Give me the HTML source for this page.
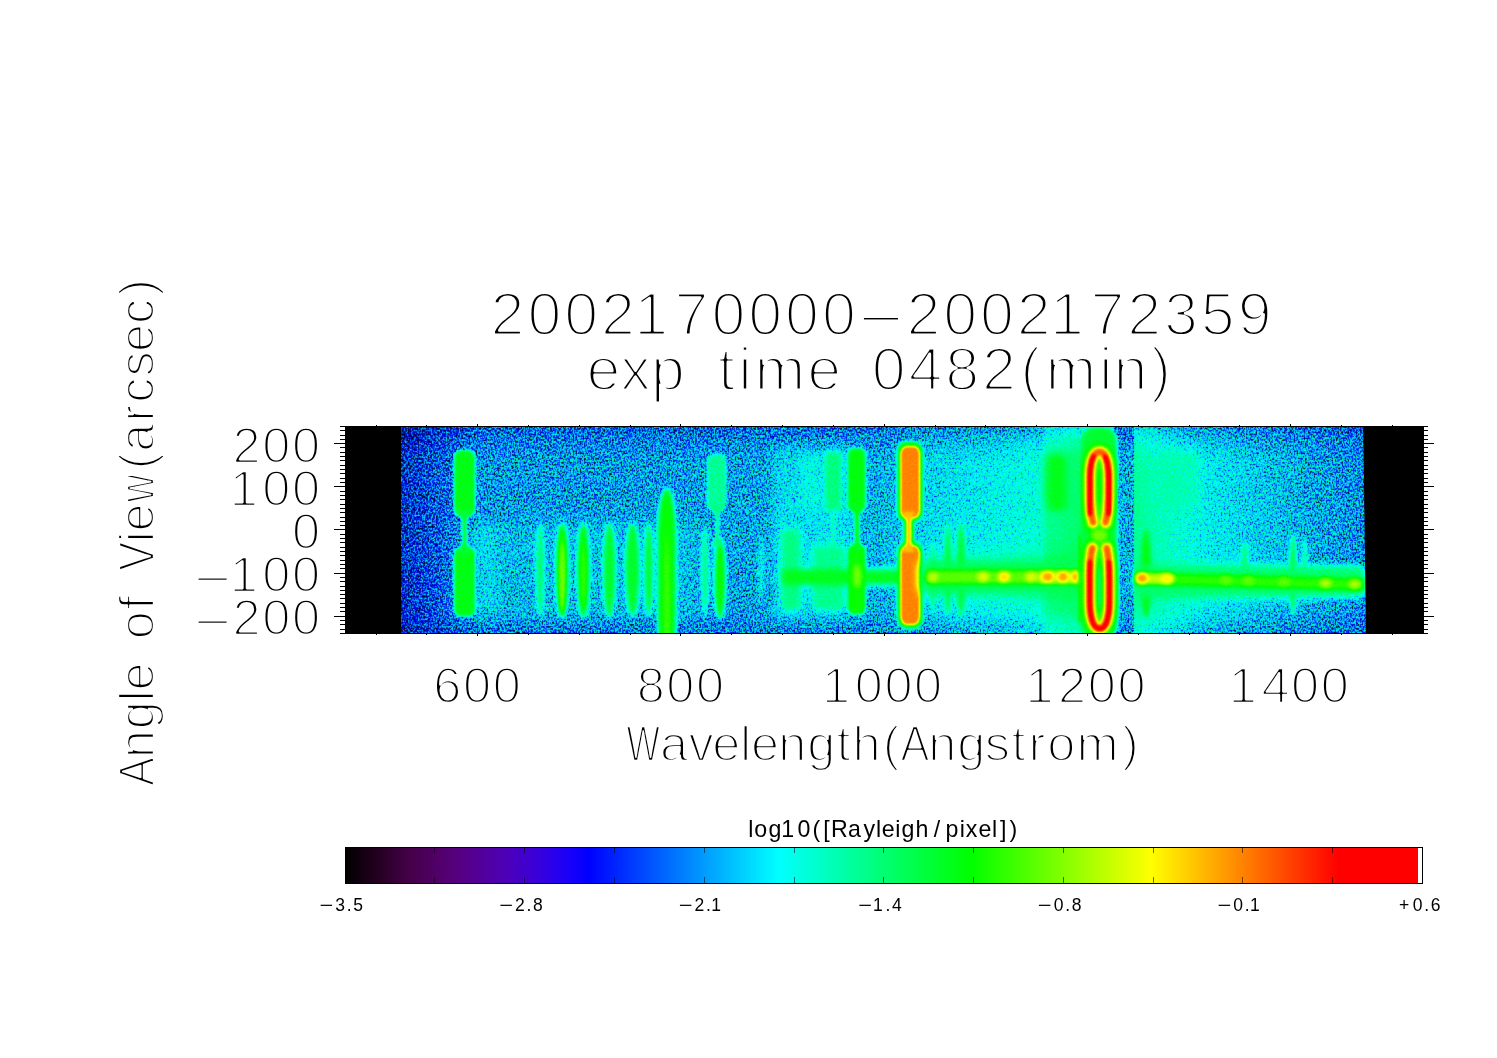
<!DOCTYPE html>
<html lang="en"><head><meta charset="utf-8"><title>2002170000-2002172359 exp time 0482(min)</title>
<style>html,body{margin:0;padding:0;background:#fff}svg{display:block}text{font-family:"Liberation Sans",sans-serif;fill:#000}</style></head><body>
<svg width="1497" height="1058" viewBox="0 0 1497 1058">
<rect width="1497" height="1058" fill="#fff"/>
<defs>
<clipPath id="ic"><rect x="345.0" y="426.0" width="1078.0" height="207.5"/></clipPath>
<filter id="cm" filterUnits="userSpaceOnUse" x="345.0" y="426.0" width="1078.0" height="207.5" color-interpolation-filters="sRGB">
<feTurbulence type="fractalNoise" baseFrequency="0.71 0.53" numOctaves="2" seed="5" result="n0"/>
<feColorMatrix in="n0" type="matrix" values="1 0 0 0 0  1 0 0 0 0  1 0 0 0 0  0 0 0 0 1" result="n1a"/>
<feGaussianBlur in="n1a" stdDeviation="0" result="n1b"/>
<feComponentTransfer in="n1b" result="n1"><feFuncR type="linear" slope="1.0" intercept="0.0"/><feFuncG type="linear" slope="1.0" intercept="0.0"/><feFuncB type="linear" slope="1.0" intercept="0.0"/></feComponentTransfer>
<feComponentTransfer in="n1" result="n"><feFuncR type="table" tableValues="0.000 0.000 0.000 0.000 0.000 0.000 0.000 0.000 0.000 0.000 0.000 0.000 0.000 0.000 0.000 0.000 0.000 0.000 0.000 0.000 0.000 0.000 0.000 0.000 0.000 0.064 0.178 0.256 0.274 0.292 0.314 0.336 0.354 0.363 0.374 0.385 0.397 0.409 0.423 0.438 0.453 0.472 0.492 0.511 0.531 0.549 0.565 0.581 0.596 0.609 0.622 0.634 0.646 0.658 0.668 0.678 0.687 0.694 0.702 0.708 0.719 0.731 0.741 0.750 0.757 0.762 0.766 0.769 0.771 0.772 0.773 0.774 0.774 0.775 0.775 0.775 0.775 0.775 0.775 0.775 0.775 0.775 0.775 0.775 0.775 0.775"/><feFuncG type="table" tableValues="0.000 0.000 0.000 0.000 0.000 0.000 0.000 0.000 0.000 0.000 0.000 0.000 0.000 0.000 0.000 0.000 0.000 0.000 0.000 0.000 0.000 0.000 0.000 0.000 0.000 0.064 0.178 0.256 0.274 0.292 0.314 0.336 0.354 0.363 0.374 0.385 0.397 0.409 0.423 0.438 0.453 0.472 0.492 0.511 0.531 0.549 0.565 0.581 0.596 0.609 0.622 0.634 0.646 0.658 0.668 0.678 0.687 0.694 0.702 0.708 0.719 0.731 0.741 0.750 0.757 0.762 0.766 0.769 0.771 0.772 0.773 0.774 0.774 0.775 0.775 0.775 0.775 0.775 0.775 0.775 0.775 0.775 0.775 0.775 0.775 0.775"/><feFuncB type="table" tableValues="0.000 0.000 0.000 0.000 0.000 0.000 0.000 0.000 0.000 0.000 0.000 0.000 0.000 0.000 0.000 0.000 0.000 0.000 0.000 0.000 0.000 0.000 0.000 0.000 0.000 0.064 0.178 0.256 0.274 0.292 0.314 0.336 0.354 0.363 0.374 0.385 0.397 0.409 0.423 0.438 0.453 0.472 0.492 0.511 0.531 0.549 0.565 0.581 0.596 0.609 0.622 0.634 0.646 0.658 0.668 0.678 0.687 0.694 0.702 0.708 0.719 0.731 0.741 0.750 0.757 0.762 0.766 0.769 0.771 0.772 0.773 0.774 0.774 0.775 0.775 0.775 0.775 0.775 0.775 0.775 0.775 0.775 0.775 0.775 0.775 0.775"/></feComponentTransfer>
<feComponentTransfer in="SourceGraphic" result="amp"><feFuncR type="table" tableValues="0.660 0.660 0.660 0.660 0.660 0.660 0.660 0.660 0.660 0.660 0.660 0.660 0.660 0.660 0.600 0.447 0.280 0.210 0.140 0.110 0.080 0.068 0.056 0.048 0.040 0.037 0.035 0.032 0.030 0.029 0.028 0.027 0.027 0.026 0.025 0.024 0.023 0.022 0.022 0.021 0.020"/><feFuncG type="table" tableValues="0.660 0.660 0.660 0.660 0.660 0.660 0.660 0.660 0.660 0.660 0.660 0.660 0.660 0.660 0.600 0.447 0.280 0.210 0.140 0.110 0.080 0.068 0.056 0.048 0.040 0.037 0.035 0.032 0.030 0.029 0.028 0.027 0.027 0.026 0.025 0.024 0.023 0.022 0.022 0.021 0.020"/><feFuncB type="table" tableValues="0.660 0.660 0.660 0.660 0.660 0.660 0.660 0.660 0.660 0.660 0.660 0.660 0.660 0.660 0.600 0.447 0.280 0.210 0.140 0.110 0.080 0.068 0.056 0.048 0.040 0.037 0.035 0.032 0.030 0.029 0.028 0.027 0.027 0.026 0.025 0.024 0.023 0.022 0.022 0.021 0.020"/></feComponentTransfer>
<feComposite in="n" in2="amp" operator="arithmetic" k1="1" k2="0" k3="-0.5" k4="0.5" result="t"/>
<feComposite in="SourceGraphic" in2="t" operator="arithmetic" k1="0" k2="1" k3="1" k4="-0.5" result="v"/>
<feComponentTransfer in="v"><feFuncR type="table" tableValues="0.000 0.000 0.000 0.000 0.000 0.000 0.000 0.000 0.000 0.000 0.000 0.000 0.000 0.000 0.000 0.000 0.000 0.000 0.000 0.000 0.000 0.000 0.000 0.000 0.000 0.000 0.000 0.000 0.000 0.000 0.000 0.000 0.000 0.000 0.000 0.000 0.000 0.000 0.000 0.000 0.000 0.000 0.000 0.000 0.000 0.000 0.000 0.000 0.000 0.000 0.000 0.000 0.000 0.000 0.000 0.000 0.000 0.000 0.000 0.000 0.000 0.000 0.000 0.000 0.000 0.000 0.000 0.000 0.000 0.000 0.000 0.000 0.000 0.000 0.000 0.035 0.082 0.128 0.175 0.221 0.268 0.314 0.361 0.407 0.454 0.500 0.547 0.593 0.640 0.686 0.733 0.779 0.826 0.872 0.919 0.965 1.000 1.000 1.000 1.000 1.000 1.000 1.000 1.000 1.000 1.000 1.000 1.000 1.000 1.000 1.000 1.000 1.000 1.000 1.000 1.000 1.000 1.000 1.000 1.000 1.000 1.000 1.000 1.000 1.000 1.000 1.000 1.000 1.000"/><feFuncG type="table" tableValues="0.000 0.000 0.000 0.000 0.000 0.000 0.000 0.000 0.000 0.000 0.000 0.000 0.000 0.000 0.000 0.000 0.000 0.000 0.000 0.000 0.000 0.000 0.000 0.000 0.000 0.000 0.000 0.000 0.000 0.003 0.048 0.092 0.136 0.181 0.225 0.270 0.314 0.358 0.403 0.447 0.491 0.536 0.580 0.625 0.669 0.713 0.758 0.802 0.847 0.891 0.935 0.980 1.000 1.000 1.000 1.000 1.000 1.000 1.000 1.000 1.000 1.000 1.000 1.000 1.000 1.000 1.000 1.000 1.000 1.000 1.000 1.000 1.000 1.000 1.000 1.000 1.000 1.000 1.000 1.000 1.000 1.000 1.000 1.000 1.000 1.000 1.000 1.000 1.000 1.000 1.000 1.000 1.000 1.000 1.000 1.000 0.989 0.944 0.899 0.854 0.809 0.764 0.719 0.674 0.629 0.584 0.540 0.495 0.450 0.405 0.360 0.315 0.270 0.225 0.180 0.135 0.091 0.046 0.001 0.000 0.000 0.000 0.000 0.000 0.000 0.000 0.000 0.000 0.000"/><feFuncB type="table" tableValues="0.000 0.000 0.000 0.000 0.000 0.000 0.000 0.000 0.015 0.062 0.109 0.156 0.203 0.250 0.297 0.345 0.392 0.439 0.486 0.533 0.580 0.627 0.674 0.721 0.768 0.815 0.862 0.909 0.956 1.000 1.000 1.000 1.000 1.000 1.000 1.000 1.000 1.000 1.000 1.000 1.000 1.000 1.000 1.000 1.000 1.000 1.000 1.000 1.000 1.000 1.000 1.000 0.976 0.932 0.888 0.844 0.801 0.757 0.713 0.669 0.625 0.581 0.537 0.493 0.449 0.406 0.362 0.318 0.274 0.230 0.186 0.142 0.098 0.054 0.011 0.000 0.000 0.000 0.000 0.000 0.000 0.000 0.000 0.000 0.000 0.000 0.000 0.000 0.000 0.000 0.000 0.000 0.000 0.000 0.000 0.000 0.000 0.000 0.000 0.000 0.000 0.000 0.000 0.000 0.000 0.000 0.000 0.000 0.000 0.000 0.000 0.000 0.000 0.000 0.000 0.000 0.000 0.000 0.000 0.000 0.000 0.000 0.000 0.000 0.000 0.000 0.000 0.000 0.000"/><feFuncA type="linear" slope="0" intercept="1"/></feComponentTransfer><feConvolveMatrix order="3" kernelMatrix="0.2 1 0.2 1 7 1 0.2 1 0.2" edgeMode="duplicate" preserveAlpha="true"/>
</filter>
<filter id="b1" x="-50%" y="-50%" width="200%" height="200%" color-interpolation-filters="sRGB"><feGaussianBlur stdDeviation="1.0"/></filter>
<filter id="b15" x="-50%" y="-50%" width="200%" height="200%" color-interpolation-filters="sRGB"><feGaussianBlur stdDeviation="1.5"/></filter>
<filter id="b2" x="-50%" y="-50%" width="200%" height="200%" color-interpolation-filters="sRGB"><feGaussianBlur stdDeviation="2.0"/></filter>
<filter id="b3" x="-50%" y="-50%" width="200%" height="200%" color-interpolation-filters="sRGB"><feGaussianBlur stdDeviation="3.0"/></filter>
<filter id="b4" x="-50%" y="-50%" width="200%" height="200%" color-interpolation-filters="sRGB"><feGaussianBlur stdDeviation="4.0"/></filter>
<filter id="b6" x="-50%" y="-50%" width="200%" height="200%" color-interpolation-filters="sRGB"><feGaussianBlur stdDeviation="6.0"/></filter>
<filter id="b9" x="-50%" y="-50%" width="200%" height="200%" color-interpolation-filters="sRGB"><feGaussianBlur stdDeviation="9.0"/></filter>
<linearGradient id="bg" gradientUnits="userSpaceOnUse" x1="345.0" x2="1423.0" y1="0" y2="0"><stop offset="0.05195" stop-color="#393939"/><stop offset="0.07421" stop-color="#404040"/><stop offset="0.09740" stop-color="#494949"/><stop offset="0.12523" stop-color="#555555"/><stop offset="0.32931" stop-color="#575757"/><stop offset="0.40353" stop-color="#595959"/><stop offset="0.49629" stop-color="#5c5c5c"/><stop offset="0.53803" stop-color="#636363"/><stop offset="0.60761" stop-color="#696969"/><stop offset="0.64471" stop-color="#6e6e6e"/><stop offset="0.65213" stop-color="#7a7a7a"/><stop offset="0.68460" stop-color="#818181"/><stop offset="0.71373" stop-color="#787878"/><stop offset="0.71382" stop-color="#5a5a5a"/><stop offset="0.73210" stop-color="#5a5a5a"/><stop offset="0.73219" stop-color="#7a7a7a"/><stop offset="0.75603" stop-color="#737373"/><stop offset="0.79314" stop-color="#696969"/><stop offset="0.83952" stop-color="#626262"/><stop offset="0.88590" stop-color="#5b5b5b"/><stop offset="0.94527" stop-color="#525252"/></linearGradient>
<linearGradient id="vd" gradientUnits="userSpaceOnUse" x1="0" x2="0" y1="426.0" y2="633.5"><stop offset="0" stop-color="#000" stop-opacity="0.2"/><stop offset="0.07" stop-color="#000" stop-opacity="0.09"/><stop offset="0.16" stop-color="#000" stop-opacity="0.015"/><stop offset="0.5" stop-color="#000" stop-opacity="0"/><stop offset="0.9" stop-color="#000" stop-opacity="0.02"/><stop offset="1" stop-color="#000" stop-opacity="0.12"/></linearGradient>
</defs>
<g clip-path="url(#ic)">
<g filter="url(#cm)">
<rect x="345.0" y="426.0" width="1078.0" height="207.5" fill="url(#bg)"/>
<rect x="345.0" y="426.0" width="1078.0" height="207.5" fill="url(#vd)"/>
<rect x="470.0" y="520.0" width="230.0" height="102.0" rx="10.0" ry="10.0" fill="#ffffff" fill-opacity="0.05" filter="url(#b9)"/>
<rect x="772.0" y="445.0" width="80.0" height="177.0" rx="8.0" ry="8.0" fill="#ffffff" fill-opacity="0.07" filter="url(#b6)"/>
<rect x="925.0" y="552.0" width="160.0" height="52.0" rx="8.0" ry="8.0" fill="#ffffff" fill-opacity="0.07" filter="url(#b9)"/>
<rect x="1134.0" y="562.0" width="230.0" height="40.0" rx="8.0" ry="8.0" fill="#ffffff" fill-opacity="0.06" filter="url(#b6)"/>
<rect x="447.0" y="520.0" width="53.0" height="102.0" rx="8.0" ry="8.0" fill="#ffffff" fill-opacity="0.04" filter="url(#b6)"/>
<rect x="454.0" y="450.0" width="21.0" height="66.7" rx="7.0" ry="8.0" fill="#909090" filter="url(#b15)"/>
<rect x="454.0" y="547.0" width="21.0" height="69.5" rx="7.0" ry="8.0" fill="#909090" filter="url(#b15)"/>
<path d="M457.0 510.0L462.2 520.0V543.5L457.0 553.5H472.0L466.8 543.5V520.0L472.0 510.0Z" fill="#8a8a8a" filter="url(#b1)"/>
<ellipse cx="540.2" cy="570.5" rx="4.1" ry="47.5" fill="#808080" filter="url(#b2)"/>
<ellipse cx="562.2" cy="570.5" rx="6.1" ry="47.5" fill="#999999" filter="url(#b2)"/>
<ellipse cx="562.2" cy="577.5" rx="2.1" ry="35.5" fill="#adadad" filter="url(#b2)"/>
<ellipse cx="583.4" cy="570.5" rx="6.1" ry="47.5" fill="#949494" filter="url(#b2)"/>
<ellipse cx="583.4" cy="577.0" rx="1.6" ry="32.0" fill="#a1a1a1" filter="url(#b2)"/>
<ellipse cx="609.4" cy="570.5" rx="6.1" ry="47.5" fill="#8c8c8c" filter="url(#b2)"/>
<ellipse cx="632.5" cy="569.5" rx="7.1" ry="46.5" fill="#8c8c8c" filter="url(#b2)"/>
<ellipse cx="648.7" cy="570.0" rx="4.1" ry="47.0" fill="#8c8c8c" filter="url(#b2)"/>
<rect x="657.8" y="488.0" width="18.0" height="212.0" rx="9.0" ry="48.0" fill="#939393" filter="url(#b2)"/>
<ellipse cx="666.8" cy="607.5" rx="2.6" ry="75.5" fill="#9f9f9f" filter="url(#b2)"/>
<ellipse cx="705.0" cy="572.0" rx="4.1" ry="45.0" fill="#7a7a7a" filter="url(#b2)"/>
<ellipse cx="720.0" cy="578.2" rx="5.6" ry="41.2" fill="#949494" filter="url(#b2)"/>
<rect x="707.2" y="454.0" width="19.0" height="57.5" rx="7.0" ry="8.0" fill="#797979" filter="url(#b15)"/>
<path d="M711.3 505.0L715.5 515.0V537.0L711.3 547.0H723.3L719.1 537.0V515.0L723.3 505.0Z" fill="#7d7d7d" filter="url(#b1)"/>
<ellipse cx="761.0" cy="570.0" rx="3.1" ry="33.0" fill="#6b6b6b" filter="url(#b2)"/>
<rect x="781.0" y="528.0" width="20.0" height="83.0" rx="6.0" ry="6.0" fill="#7c7c7c" filter="url(#b3)"/>
<rect x="801.0" y="455.0" width="19.0" height="55.0" rx="6.0" ry="6.0" fill="#6b6b6b" filter="url(#b3)"/>
<rect x="825.0" y="451.0" width="16.5" height="60.5" rx="6.0" ry="6.0" fill="#7d7d7d" filter="url(#b2)"/>
<rect x="831.0" y="508.0" width="4.0" height="40.0" rx="1.0" ry="1.0" fill="#737373" filter="url(#b1)"/>
<rect x="812.0" y="545.0" width="33.0" height="65.0" rx="7.0" ry="7.0" fill="#7a7a7a" filter="url(#b3)"/>
<rect x="781.0" y="569.0" width="122.0" height="16.0" rx="6.0" ry="6.0" fill="#8f8f8f" filter="url(#b3)"/>
<rect x="847.8" y="448.0" width="17.8" height="63.5" rx="6.0" ry="7.0" fill="#919191" filter="url(#b15)"/>
<rect x="847.8" y="545.0" width="17.8" height="69.5" rx="6.0" ry="7.0" fill="#949494" filter="url(#b15)"/>
<path d="M850.5 505.0L854.7 515.0V541.5L850.5 551.5H863.5L859.3 541.5V515.0L863.5 505.0Z" fill="#8f8f8f" filter="url(#b1)"/>
<ellipse cx="857.0" cy="576.0" rx="4.0" ry="12.0" fill="#a8a8a8" filter="url(#b2)"/>
<rect x="897.3" y="441.5" width="25.6" height="79.5" rx="9.0" ry="9.0" fill="#949494" filter="url(#b15)"/>
<rect x="897.3" y="542.5" width="25.6" height="86.0" rx="9.0" ry="10.0" fill="#949494" filter="url(#b15)"/>
<path d="M899.3 512.0L903.8 522.0V541.5L899.3 551.5H918.3L913.8 541.5V522.0L918.3 512.0Z" fill="#949494" filter="url(#b15)"/>
<rect x="900.6" y="446.3" width="19.2" height="71.7" rx="6.5" ry="7.5" fill="#d4d4d4" filter="url(#b1)"/>
<rect x="900.6" y="545.6" width="19.2" height="79.2" rx="6.5" ry="9.0" fill="#d4d4d4" filter="url(#b1)"/>
<path d="M902.8 511.5L906.5 521.5V542.0L902.8 552.0H914.8L911.1 542.0V521.5L914.8 511.5Z" fill="#c9c9c9" filter="url(#b1)"/>
<ellipse cx="933.0" cy="577.5" rx="2.6" ry="35.5" fill="#808080" filter="url(#b2)"/>
<ellipse cx="947.8" cy="569.5" rx="3.1" ry="46.5" fill="#8c8c8c" filter="url(#b2)"/>
<ellipse cx="961.0" cy="570.5" rx="4.1" ry="47.5" fill="#8c8c8c" filter="url(#b2)"/>
<rect x="920.0" y="560.0" width="166.0" height="34.0" rx="8.0" ry="8.0" fill="#858585" filter="url(#b4)"/>
<rect x="925.0" y="570.0" width="159.0" height="14.0" rx="6.0" ry="6.0" fill="#a2a2a2" filter="url(#b2)"/>
<rect x="1036.0" y="571.5" width="46.0" height="11.0" rx="5.0" ry="5.0" fill="#b2b2b2" filter="url(#b2)"/>
<ellipse cx="933.0" cy="576.8" rx="5.7" ry="5.4" fill="#b2b2b2" filter="url(#b2)"/>
<ellipse cx="983.0" cy="576.8" rx="6.2" ry="5.4" fill="#b8b8b8" filter="url(#b2)"/>
<ellipse cx="1004.0" cy="576.8" rx="6.2" ry="5.4" fill="#c4c4c4" filter="url(#b2)"/>
<ellipse cx="1031.0" cy="576.8" rx="6.2" ry="5.4" fill="#b8b8b8" filter="url(#b2)"/>
<ellipse cx="1047.6" cy="576.8" rx="6.2" ry="5.4" fill="#cfcfcf" filter="url(#b2)"/>
<ellipse cx="1063.0" cy="576.8" rx="5.7" ry="5.4" fill="#cfcfcf" filter="url(#b2)"/>
<ellipse cx="1075.7" cy="576.8" rx="4.7" ry="5.4" fill="#cccccc" filter="url(#b2)"/>
<rect x="1044.5" y="453.0" width="35.5" height="59.0" rx="5.0" ry="5.0" fill="#818181" filter="url(#b4)"/>
<rect x="1048.0" y="455.0" width="18.0" height="55.0" rx="6.0" ry="6.0" fill="#8f8f8f" filter="url(#b3)"/>
<rect x="1078.3" y="535.0" width="3.0" height="87.0" rx="1.0" ry="1.0" fill="#999999" filter="url(#b1)"/>
<rect x="1081.5" y="427.0" width="35.5" height="213.0" rx="14.0" ry="14.0" fill="#8b8b8b" filter="url(#b2)"/>
<ellipse cx="1099.4" cy="535.0" rx="9.0" ry="10.0" fill="#a7a7a7" filter="url(#b2)"/>
<ellipse cx="1099.2" cy="492.0" rx="3.3" ry="23.0" fill="#747474" filter="url(#b15)"/>
<ellipse cx="1099.5" cy="585.0" rx="3.9" ry="29.0" fill="#656565" filter="url(#b15)"/>
<path d="M1093 522.5C1090.9 515 1089.9 505 1089.9 490V478C1089.9 462 1093.5 451.8 1099.4 451.8C1105.2 451.8 1108.6 462 1108.6 478V490C1108.6 505 1107.7 515 1105.6 522.5" fill="none" stroke="#999999" stroke-width="17.5" stroke-linecap="round" filter="url(#b2)"/>
<path d="M1093 522.5C1090.9 515 1089.9 505 1089.9 490V478C1089.9 462 1093.5 451.8 1099.4 451.8C1105.2 451.8 1108.6 462 1108.6 478V490C1108.6 505 1107.7 515 1105.6 522.5" fill="none" stroke="#bebebe" stroke-width="10.8" stroke-linecap="round" filter="url(#b15)"/>
<path d="M1093 522.5C1090.9 515 1089.9 505 1089.9 490V478C1089.9 462 1093.5 451.8 1099.4 451.8C1105.2 451.8 1108.6 462 1108.6 478V490C1108.6 505 1107.7 515 1105.6 522.5" fill="none" stroke="#dbdbdb" stroke-width="6.4" stroke-linecap="round" filter="url(#b15)"/>
<path d="M1089.7 514C1089.9 506 1089.9 497 1089.9 490V478C1089.9 469 1091.4 460.5 1093.6 456M1105.2 456.5C1107.3 461 1108.7 469 1108.7 478V490C1108.7 497 1108.7 506 1108.5 514" fill="none" stroke="#f5f5f5" stroke-width="3.8" stroke-linecap="round" filter="url(#b15)"/>
<path d="M1092.4 548C1089.7 556 1089.7 566 1089.7 580V600C1089.7 618 1093.5 628.3 1099.6 628.3C1105.7 628.3 1109.3 618 1109.3 600V580C1109.3 566 1108.5 556 1106.7 548" fill="none" stroke="#999999" stroke-width="17.5" stroke-linecap="round" filter="url(#b2)"/>
<path d="M1092.4 548C1089.7 556 1089.7 566 1089.7 580V600C1089.7 618 1093.5 628.3 1099.6 628.3C1105.7 628.3 1109.3 618 1109.3 600V580C1109.3 566 1108.5 556 1106.7 548" fill="none" stroke="#bebebe" stroke-width="10.8" stroke-linecap="round" filter="url(#b15)"/>
<path d="M1092.4 548C1089.7 556 1089.7 566 1089.7 580V600C1089.7 618 1093.5 628.3 1099.6 628.3C1105.7 628.3 1109.3 618 1109.3 600V580C1109.3 566 1108.5 556 1106.7 548" fill="none" stroke="#dbdbdb" stroke-width="6.4" stroke-linecap="round" filter="url(#b15)"/>
<path d="M1089.9 562C1089.7 568 1089.7 574 1089.7 580V600C1089.7 618 1093.5 629 1099.6 629C1105.7 629 1109.3 618 1109.3 600V580C1109.3 574 1109.3 568 1108.7 562" fill="none" stroke="#f5f5f5" stroke-width="3.8" stroke-linecap="round" filter="url(#b15)"/>
<path d="M1109.6 470V512M1110.4 565V612" fill="none" stroke="#ededed" stroke-width="3.2" stroke-linecap="round" filter="url(#b15)"/>
<ellipse cx="1146.0" cy="573.5" rx="5.1" ry="44.5" fill="#919191" filter="url(#b2)"/>
<ellipse cx="1244.7" cy="561.5" rx="3.1" ry="19.5" fill="#808080" filter="url(#b2)"/>
<ellipse cx="1293.0" cy="575.0" rx="3.1" ry="41.0" fill="#8c8c8c" filter="url(#b2)"/>
<ellipse cx="1304.8" cy="559.0" rx="2.6" ry="22.0" fill="#787878" filter="url(#b2)"/>
<rect x="1160.0" y="450.0" width="40.0" height="60.0" rx="8.0" ry="8.0" fill="#787878" fill-opacity="0.6" filter="url(#b4)"/>
<rect x="1134.5" y="566.0" width="231.5" height="31.0" rx="8.0" ry="8.0" fill="#808080" filter="url(#b3)"/>
<path d="M1136 572.5 L1364 578.5 V590.5 L1136 584.5Z" fill="#9a9a9a" filter="url(#b2)"/>
<rect x="1136.0" y="573.5" width="38.0" height="10.0" rx="5.0" ry="5.0" fill="#b5b5b5" filter="url(#b2)"/>
<ellipse cx="1141.8" cy="578.0" rx="6.2" ry="5.2" fill="#cfcfcf" filter="url(#b2)"/>
<ellipse cx="1166.8" cy="578.5" rx="6.7" ry="5.2" fill="#bfbfbf" filter="url(#b2)"/>
<ellipse cx="1226.0" cy="580.0" rx="6.2" ry="5.2" fill="#a3a3a3" filter="url(#b2)"/>
<ellipse cx="1248.6" cy="580.5" rx="6.2" ry="5.2" fill="#a3a3a3" filter="url(#b2)"/>
<ellipse cx="1284.0" cy="581.5" rx="6.2" ry="5.2" fill="#a3a3a3" filter="url(#b2)"/>
<ellipse cx="1325.6" cy="583.0" rx="6.2" ry="5.2" fill="#b0b0b0" filter="url(#b2)"/>
<ellipse cx="1354.7" cy="584.0" rx="6.2" ry="5.2" fill="#b0b0b0" filter="url(#b2)"/>
</g>
<rect x="345.0" y="426.0" width="56.0" height="207.5" fill="#000"/>
<path d="M1363.2 426.0L1366 633.5H1423.0V426.0Z" fill="#000"/>
</g>
<g stroke="#000" stroke-width="1" fill="none" shape-rendering="crispEdges">
<rect x="345.0" y="426.0" width="1078.0" height="207.5"/>
<path d="M340.0 633.5H345.0M1423.0 633.5H1428.0M340.0 629.1H345.0M1423.0 629.1H1428.0M340.0 624.8H345.0M1423.0 624.8H1428.0M340.0 620.5H345.0M1423.0 620.5H1428.0M334.0 616.2H345.0M1423.0 616.2H1434.0M340.0 611.9H345.0M1423.0 611.9H1428.0M340.0 607.6H345.0M1423.0 607.6H1428.0M340.0 603.3H345.0M1423.0 603.3H1428.0M340.0 598.9H345.0M1423.0 598.9H1428.0M340.0 594.6H345.0M1423.0 594.6H1428.0M340.0 590.3H345.0M1423.0 590.3H1428.0M340.0 586.0H345.0M1423.0 586.0H1428.0M340.0 581.7H345.0M1423.0 581.7H1428.0M340.0 577.4H345.0M1423.0 577.4H1428.0M334.0 573.0H345.0M1423.0 573.0H1434.0M340.0 568.7H345.0M1423.0 568.7H1428.0M340.0 564.4H345.0M1423.0 564.4H1428.0M340.0 560.1H345.0M1423.0 560.1H1428.0M340.0 555.8H345.0M1423.0 555.8H1428.0M340.0 551.5H345.0M1423.0 551.5H1428.0M340.0 547.2H345.0M1423.0 547.2H1428.0M340.0 542.8H345.0M1423.0 542.8H1428.0M340.0 538.5H345.0M1423.0 538.5H1428.0M340.0 534.2H345.0M1423.0 534.2H1428.0M334.0 529.9H345.0M1423.0 529.9H1434.0M340.0 525.6H345.0M1423.0 525.6H1428.0M340.0 521.3H345.0M1423.0 521.3H1428.0M340.0 517.0H345.0M1423.0 517.0H1428.0M340.0 512.6H345.0M1423.0 512.6H1428.0M340.0 508.3H345.0M1423.0 508.3H1428.0M340.0 504.0H345.0M1423.0 504.0H1428.0M340.0 499.7H345.0M1423.0 499.7H1428.0M340.0 495.4H345.0M1423.0 495.4H1428.0M340.0 491.1H345.0M1423.0 491.1H1428.0M334.0 486.8H345.0M1423.0 486.8H1434.0M340.0 482.4H345.0M1423.0 482.4H1428.0M340.0 478.1H345.0M1423.0 478.1H1428.0M340.0 473.8H345.0M1423.0 473.8H1428.0M340.0 469.5H345.0M1423.0 469.5H1428.0M340.0 465.2H345.0M1423.0 465.2H1428.0M340.0 460.9H345.0M1423.0 460.9H1428.0M340.0 456.5H345.0M1423.0 456.5H1428.0M340.0 452.2H345.0M1423.0 452.2H1428.0M340.0 447.9H345.0M1423.0 447.9H1428.0M334.0 443.6H345.0M1423.0 443.6H1434.0M340.0 439.3H345.0M1423.0 439.3H1428.0M340.0 435.0H345.0M1423.0 435.0H1428.0M340.0 430.7H345.0M1423.0 430.7H1428.0M340.0 426.3H345.0M1423.0 426.3H1428.0M376.0 424.5V426.0M376.0 633.5V635.0M426.8 424.5V426.0M426.8 633.5V635.0M477.6 423.5V426.0M477.6 633.5V636.0M528.4 424.5V426.0M528.4 633.5V635.0M579.2 424.5V426.0M579.2 633.5V635.0M630.1 424.5V426.0M630.1 633.5V635.0M680.9 423.5V426.0M680.9 633.5V636.0M731.7 424.5V426.0M731.7 633.5V635.0M782.5 424.5V426.0M782.5 633.5V635.0M833.4 424.5V426.0M833.4 633.5V635.0M884.2 423.5V426.0M884.2 633.5V636.0M935.0 424.5V426.0M935.0 633.5V635.0M985.8 424.5V426.0M985.8 633.5V635.0M1036.6 424.5V426.0M1036.6 633.5V635.0M1087.5 423.5V426.0M1087.5 633.5V636.0M1138.3 424.5V426.0M1138.3 633.5V635.0M1189.1 424.5V426.0M1189.1 633.5V635.0M1239.9 424.5V426.0M1239.9 633.5V635.0M1290.8 423.5V426.0M1290.8 633.5V636.0M1341.6 424.5V426.0M1341.6 633.5V635.0M1392.4 424.5V426.0M1392.4 633.5V635.0"/>
</g>
<g>
<g role="img" aria-label="2002170000−2002172359"><text x="490.6 527.5 564.3 601.0 634.3 674.6 711.5 748.3 785.1 821.9" y="334.8" font-size="61" stroke="#fff" stroke-width="2.9" stroke-linejoin="round">2002170000</text><text transform="translate(881.1,338.5) scale(1.276,1)" x="-17.9" y="0" font-size="61" stroke="#fff" stroke-width="2.9" stroke-linejoin="round">−</text><text x="906.4 943.3 980.1 1016.8 1050.1 1090.4 1127.2 1164.1 1200.7 1237.7" y="334.8" font-size="61" stroke="#fff" stroke-width="2.9" stroke-linejoin="round">2002172359</text></g>
<g role="img" aria-label="exp time 0482(min)"><text x="586.5 620.3 650.9 686.2 718.0 738.3 754.6 807.3 840.7 871.7 908.6 945.3 982.0 1020.2 1045.4 1099.0 1113.5 1150.7" y="390.1" font-size="61" stroke="#fff" stroke-width="2.9" stroke-linejoin="round">exp time 0482(min)</text></g>
<g role="img" aria-label="600"><text x="433.2 463.0 492.7" y="703.1" font-size="50.5" stroke="#fff" stroke-width="2.3" stroke-linejoin="round">600</text></g>
<g role="img" aria-label="800"><text x="636.7 666.3 696.0" y="703.1" font-size="50.5" stroke="#fff" stroke-width="2.3" stroke-linejoin="round">800</text></g>
<g role="img" aria-label="1000"><text x="822.1 854.7 884.4 914.1" y="703.1" font-size="50.5" stroke="#fff" stroke-width="2.3" stroke-linejoin="round">1000</text></g>
<g role="img" aria-label="1200"><text x="1025.4 1058.0 1087.7 1117.4" y="703.1" font-size="50.5" stroke="#fff" stroke-width="2.3" stroke-linejoin="round">1200</text></g>
<g role="img" aria-label="1400"><text x="1228.7 1261.5 1291.0 1320.7" y="703.1" font-size="50.5" stroke="#fff" stroke-width="2.3" stroke-linejoin="round">1400</text></g>
<g role="img" aria-label="200"><text x="232.6 262.3 292.0" y="462.5" font-size="50.5" stroke="#fff" stroke-width="2.3" stroke-linejoin="round">200</text></g>
<g role="img" aria-label="100"><text x="229.8 262.3 292.0" y="505.7" font-size="50.5" stroke="#fff" stroke-width="2.3" stroke-linejoin="round">100</text></g>
<g role="img" aria-label="0"><text x="292.0" y="548.8" font-size="50.5" stroke="#fff" stroke-width="2.3" stroke-linejoin="round">0</text></g>
<g role="img" aria-label="−100"><text transform="translate(212.6,595.5) scale(1.260,1)" x="-14.8" y="0" font-size="50.5" stroke="#fff" stroke-width="2.3" stroke-linejoin="round">−</text><text x="229.8 262.3 292.0" y="592.0" font-size="50.5" stroke="#fff" stroke-width="2.3" stroke-linejoin="round">100</text></g>
<g role="img" aria-label="−200"><text transform="translate(212.6,638.7) scale(1.260,1)" x="-14.8" y="0" font-size="50.5" stroke="#fff" stroke-width="2.3" stroke-linejoin="round">−</text><text x="232.6 262.3 292.0" y="635.1" font-size="50.5" stroke="#fff" stroke-width="2.3" stroke-linejoin="round">200</text></g>
<g role="img" aria-label="Wavelength(Angstrom)"><text x="626.5 660.0 688.6 712.3 740.0 750.9 778.3 807.3 836.4 852.4 882.8 900.4 928.3 957.2 984.7 1011.6 1028.6 1047.2 1076.6 1121.9" y="760.9" font-size="50.5" stroke="#fff" stroke-width="2.3" stroke-linejoin="round"><tspan textLength="33.4" lengthAdjust="spacingAndGlyphs">W</tspan>avelength(<tspan textLength="29.0" lengthAdjust="spacingAndGlyphs">A</tspan>ngstrom)</text></g>
<g role="img" aria-label="Angle of View(arcsec)"><g transform="translate(154.2,0) rotate(-90)"><text x="-786.1 -758.2 -729.3 -701.5 -690.5 -663.2 -639.3 -609.7 -593.4 -570.8 -542.6 -531.6 -502.2 -469.6 -451.8 -421.8 -402.8 -376.6 -351.9 -324.1 -295.8" y="0.0" font-size="50.5" stroke="#fff" stroke-width="2.3" stroke-linejoin="round"><tspan textLength="29.0" lengthAdjust="spacingAndGlyphs">A</tspan>ngle of <tspan textLength="29.0" lengthAdjust="spacingAndGlyphs">V</tspan>ie<tspan textLength="28.4" lengthAdjust="spacingAndGlyphs">w</tspan>(arcsec)</text></g></g>
</g>
<defs><linearGradient id="cb" x1="0" x2="1" y1="0" y2="0"><stop offset="0.0000" stop-color="rgb(0,0,0)"/><stop offset="0.0300" stop-color="rgb(36,0,32)"/><stop offset="0.0590" stop-color="rgb(68,0,72)"/><stop offset="0.0890" stop-color="rgb(83,0,109)"/><stop offset="0.1110" stop-color="rgb(86,0,136)"/><stop offset="0.1480" stop-color="rgb(78,0,182)"/><stop offset="0.1780" stop-color="rgb(58,0,218)"/><stop offset="0.2075" stop-color="rgb(25,0,250)"/><stop offset="0.2260" stop-color="rgb(0,0,255)"/><stop offset="0.4020" stop-color="rgb(0,255,255)"/><stop offset="0.5800" stop-color="rgb(0,255,0)"/><stop offset="0.7480" stop-color="rgb(255,255,0)"/><stop offset="0.9220" stop-color="rgb(255,0,0)"/><stop offset="1.0000" stop-color="rgb(255,0,0)"/></linearGradient></defs>
<rect x="345.0" y="847.0" width="1077.5" height="36.0" fill="url(#cb)"/>
<rect x="1418" y="847.0" width="4.5" height="36.0" fill="#fff"/>
<g stroke="#000" stroke-width="1" fill="none" shape-rendering="crispEdges"><rect x="345.0" y="847.0" width="1077.5" height="36.0"/>
<path d="M434.8 847.0v6M434.8 883.0v-6M524.6 847.0v6M524.6 883.0v-6M614.4 847.0v6M614.4 883.0v-6M704.2 847.0v6M704.2 883.0v-6M794.0 847.0v6M794.0 883.0v-6M883.8 847.0v6M883.8 883.0v-6M973.5 847.0v6M973.5 883.0v-6M1063.3 847.0v6M1063.3 883.0v-6M1153.1 847.0v6M1153.1 883.0v-6M1242.9 847.0v6M1242.9 883.0v-6M1332.7 847.0v6M1332.7 883.0v-6" stroke-opacity="0.55"/></g>
<g>
<g role="img" aria-label="log10([Rayleigh/pixel])"><text x="748.2 754.2 768.5 781.3 797.5 812.4 823.3 831.1 848.1 863.6 876.1 881.7 895.3 901.6 915.4 933.8 945.5 959.7 965.7 978.5 992.1 999.9 1009.5" y="837.0" font-size="23.2">log10([Rayleigh/pixel])</text></g>
<g role="img" aria-label="−3.5"><text transform="translate(326.4,911.1) scale(1.349,1)" x="-5.1" y="0" font-size="17.5">−</text><text x="335.3 346.8 353.3" y="910.6" font-size="17.5">3.5</text></g>
<g role="img" aria-label="−2.8"><text transform="translate(506.0,911.1) scale(1.349,1)" x="-5.1" y="0" font-size="17.5">−</text><text x="515.0 526.4 532.9" y="910.6" font-size="17.5">2.8</text></g>
<g role="img" aria-label="−2.1"><text transform="translate(685.6,911.1) scale(1.349,1)" x="-5.1" y="0" font-size="17.5">−</text><text x="694.6 706.0 711.3" y="910.6" font-size="17.5">2.1</text></g>
<g role="img" aria-label="−1.4"><text transform="translate(865.1,911.1) scale(1.349,1)" x="-5.1" y="0" font-size="17.5">−</text><text x="872.9 885.6 892.1" y="910.6" font-size="17.5">1.4</text></g>
<g role="img" aria-label="−0.8"><text transform="translate(1044.7,911.1) scale(1.349,1)" x="-5.1" y="0" font-size="17.5">−</text><text x="1053.7 1065.2 1071.7" y="910.6" font-size="17.5">0.8</text></g>
<g role="img" aria-label="−0.1"><text transform="translate(1224.3,911.1) scale(1.349,1)" x="-5.1" y="0" font-size="17.5">−</text><text x="1233.2 1244.7 1250.1" y="910.6" font-size="17.5">0.1</text></g>
<g role="img" aria-label="+0.6"><text x="1398.9 1412.8 1424.3 1430.7" y="910.6" font-size="17.5">+0.6</text></g>
</g>
</svg></body></html>
